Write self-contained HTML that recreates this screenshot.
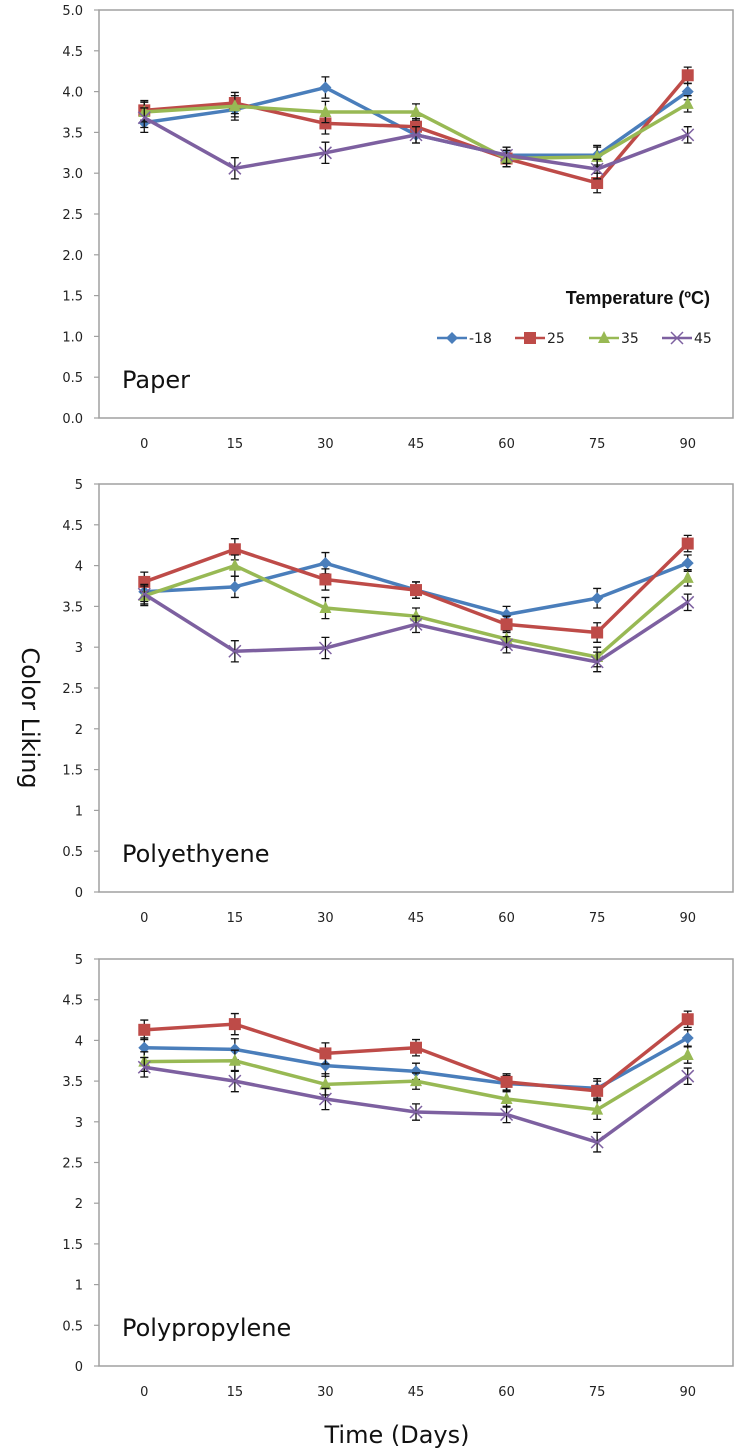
<!DOCTYPE html>
<html><head><meta charset="utf-8"><style>
body{margin:0;background:#fff;width:735px;height:1450px;overflow:hidden;font-family:"DejaVu Sans","Liberation Sans",sans-serif}
svg{display:block}
</style></head><body>
<svg id="chart" width="735" height="1450" viewBox="0 0 735 1450" xmlns="http://www.w3.org/2000/svg">
<text x="22" y="718" font-size="24" fill="#111" text-anchor="middle" transform="rotate(90 22 718)" font-family="DejaVu Sans, sans-serif">Color Liking</text>
<text x="397" y="1443" font-size="24" fill="#111" text-anchor="middle" font-family="DejaVu Sans, sans-serif">Time (Days)</text>
</svg>
<script>
const categories=["0","15","30","45","60","75","90"];
const seriesNames=["-18","25","35","45"];
const colors=["#4a7ebb","#be4b48","#98b954","#7d60a0"];
const panelNames=["Paper","Polyethyene","Polypropylene"];
const paperM18=[3.62,3.78,4.05,3.47,3.22,3.22,4.0];
const paper25=[3.77,3.86,3.61,3.57,3.18,2.88,4.2];
const paper35=[3.75,3.82,3.75,3.75,3.18,3.2,3.85];
const paper45=[3.68,3.06,3.25,3.47,3.22,3.05,3.47];
const peM18=[3.68,3.74,4.03,3.7,3.4,3.6,4.03];
const pe25=[3.8,4.2,3.83,3.7,3.28,3.18,4.27];
const pe35=[3.63,4.0,3.48,3.38,3.1,2.88,3.85];
const pe45=[3.65,2.95,2.99,3.28,3.03,2.82,3.55];
const ppM18=[3.91,3.89,3.69,3.62,3.47,3.41,4.03];
const pp25=[4.13,4.2,3.84,3.91,3.49,3.38,4.26];
const pp35=[3.74,3.75,3.46,3.5,3.28,3.15,3.82];
const pp45=[3.67,3.5,3.28,3.12,3.09,2.75,3.56];
const errorBar=[0.12,0.13,0.13,0.1,0.1,0.12,0.1];
const yTicksPaper=["0.0","0.5","1.0","1.5","2.0","2.5","3.0","3.5","4.0","4.5","5.0"];
const yTicksOther=["0","0.5","1","1.5","2","2.5","3","3.5","4","4.5","5"];
const panelData=[[paperM18,paper25,paper35,paper45],[peM18,pe25,pe35,pe45],[ppM18,pp25,pp35,pp45]];
const NS="http://www.w3.org/2000/svg";
const svg=document.getElementById('chart');
const tops=[10,484,959],bottoms=[418,892,1366];
const L=99,R=733;
function mk(t,a,p){const e=document.createElementNS(NS,t);for(const k in a)e.setAttribute(k,a[k]);(p||svg).appendChild(e);return e;}
panelData.forEach((series,pi)=>{
  const g=mk('g',{});
  
  
  const top=tops[pi],bot=bottoms[pi];
  const y=v=>bot-(v/5)*(bot-top);
  const bw=(R-L)/categories.length;
  const x=i=>L+bw*(i+0.5);
  const frame=mk('rect',{x:L,y:top,width:R-L,height:bot-top,fill:'none',stroke:'#a0a0a0','stroke-width':1.5},g);
  
  
  const ticks=pi===0?yTicksPaper:yTicksOther;
  ticks.forEach((t,i)=>{
    const v=i*0.5;
    mk('line',{x1:L-5,x2:L,y1:y(v),y2:y(v),stroke:'#a0a0a0','stroke-width':1.2},g);
    const tx=mk('text',{x:L-16,y:y(v)+5,'font-size':13,'text-anchor':'end',fill:'#222'},g);
    
    
    tx.textContent=t;
  });
  categories.forEach((c,i)=>{
    const tx=mk('text',{x:x(i),y:bot+30,'font-size':13,'text-anchor':'middle',fill:'#222'},g);
    
    
    tx.textContent=c;
  });
  const lab=mk('text',{x:L+23,y:bot-30,'font-size':24,fill:'#111','font-family':'DejaVu Sans, sans-serif'},g);
  
  
  lab.textContent=panelNames[pi];
  series.forEach((vals,si)=>{
    const sg=mk('g',{},g);
    
    
    mk('polyline',{points:vals.map((v,i)=>x(i)+','+y(v)).join(' '),fill:'none',stroke:colors[si],'stroke-width':3.5,'stroke-linejoin':'round'},sg);
    vals.forEach((v,i)=>{
      const e=errorBar[i];
      mk('path',{d:`M${x(i)} ${y(v+e)}V${y(v-e)}M${x(i)-4} ${y(v+e)}h8M${x(i)-4} ${y(v-e)}h8`,stroke:'#111','stroke-width':1.3,fill:'none'},sg);
      drawMarker(sg,si,x(i),y(v));
    });
  });
});
function drawMarker(p,si,cx,cy){
  let m;
  if(si===0)m=mk('path',{d:`M${cx} ${cy-6}L${cx+6} ${cy}L${cx} ${cy+6}L${cx-6} ${cy}Z`,fill:colors[0]},p);
  else if(si===1)m=mk('rect',{x:cx-6,y:cy-6,width:12,height:12,fill:colors[1]},p);
  else if(si===2)m=mk('path',{d:`M${cx} ${cy-7}L${cx+6} ${cy+5}L${cx-6} ${cy+5}Z`,fill:colors[2]},p);
  else m=mk('path',{d:`M${cx-6} ${cy-6}L${cx+6} ${cy+6}M${cx+6} ${cy-6}L${cx-6} ${cy+6}`,stroke:colors[3],'stroke-width':1.5},p);
  
  
}
const lg=mk('g',{});


const lt=mk('text',{x:710,y:304,'font-size':18,'font-weight':'bold','text-anchor':'end',fill:'#111','font-family':'Liberation Sans, sans-serif'},lg);


lt.textContent='Temperature (ºC)';
const lx=[437,515,589,662];
seriesNames.forEach((n,si)=>{
  const eg=mk('g',{},lg);
  
  
  mk('line',{x1:lx[si],x2:lx[si]+30,y1:338,y2:338,stroke:colors[si],'stroke-width':2.5},eg);
  drawMarker(eg,si,lx[si]+15,338);
  const t=mk('text',{x:lx[si]+32,y:343,'font-size':14,fill:'#222'},eg);
  t.textContent=n;
});
</script>
</body></html>
